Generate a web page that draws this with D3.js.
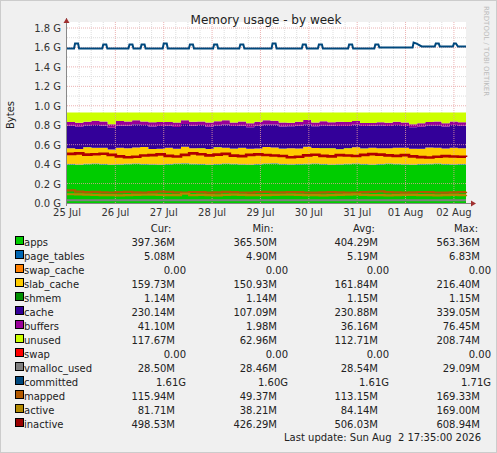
<!DOCTYPE html>
<html>
<head>
<meta charset="utf-8">
<script src="https://cdn.jsdelivr.net/npm/d3@7"></script>
<style>
  body { margin: 0; background: #fff; }
  text { font-family: "DejaVu Sans", sans-serif; white-space: pre; }
</style>
</head>
<body>
<div id="chart"></div>
<script>
// values in MB, one sample every ~4 hours from 25 Jul 00:00
const apps = [395,392,398,401,396,390,394,399,402,397,393,391,396,400,404,398,395,392,397,401,399,394,390,396,400,403,397,393,395,399,402,396,391,394,398,401,397,392,395,400,398,394,392,396,399,402,397,393,395,397];
const pageTables = [5.1,5.2,5.1,5.0,5.2,5.3,5.1,5.2,5.0,5.1,5.2,5.1,5.3,5.2,5.1,5.0,5.2,5.1,5.2,5.3,5.1,5.2,5.0,5.1,5.2,5.1,5.2,5.3,5.1,5.2,5.0,5.1,5.2,5.1,5.2,5.3,5.1,5.2,5.0,5.1,5.2,5.1,5.2,5.3,5.1,5.2,5.0,5.1,5.1,5.1];
const swapCache = [0,0,0,0,0,0,0,0,0,0,0,0,0,0,0,0,0,0,0,0,0,0,0,0,0,0,0,0,0,0,0,0,0,0,0,0,0,0,0,0,0,0,0,0,0,0,0,0,0,0];
const slabCache = [162,158,171,160,165,155,168,159,163,174,157,161,166,152,169,160,164,158,172,161,155,167,163,159,170,162,156,165,160,173,158,163,168,154,161,166,159,171,162,157,164,169,160,155,166,161,158,170,163,160];
const shmem = [1.1,1.1,1.1,1.1,1.1,1.1,1.1,1.1,1.1,1.1,1.1,1.1,1.1,1.1,1.1,1.1,1.1,1.1,1.1,1.1,1.1,1.1,1.1,1.1,1.1,1.1,1.1,1.1,1.1,1.1,1.1,1.1,1.1,1.1,1.1,1.1,1.1,1.1,1.1,1.1,1.1,1.1,1.1,1.1,1.1,1.1,1.1,1.1,1.1,1.1];
const cache = [232,228,225,236,230,222,229,234,238,226,231,235,227,224,233,230,236,229,225,240,232,227,221,234,230,237,228,226,233,231,224,235,229,238,227,232,230,225,236,228,233,222,220,226,229,231,227,233,230,229];
const buffers = [38,42,35,44,40,37,45,39,41,36,43,40,38,46,39,41,37,44,40,42,35,43,39,41,45,38,40,36,42,44,39,41,37,43,40,38,30,28,31,33,35,37,32,36,34,38,33,35,37,41];
const swap = [0,0,0,0,0,0,0,0,0,0,0,0,0,0,0,0,0,0,0,0,0,0,0,0,0,0,0,0,0,0,0,0,0,0,0,0,0,0,0,0,0,0,0,0,0,0,0,0,0,0];
const memTotal = 930; // unused = total - everything else
const vmalloc = [28.5,28.5,28.5,28.5,28.5,28.5,28.5,28.5,28.5,28.5,28.5,28.5,28.5,28.5,28.5,28.5,28.5,28.5,28.5,28.5,28.5,28.5,28.5,28.5,28.5,28.5,28.5,28.5,28.5,28.5,28.5,28.5,28.5,28.5,28.5,28.5,28.5,28.5,28.5,28.5,28.5,28.5,28.5,28.5,28.5,28.5,28.5,28.5,28.5,28.5];
const inactive = [505,510,498,502,507,495,480,470,475,488,492,500,485,478,495,510,502,490,498,505,487,482,495,500,493,488,484,470,475,490,497,485,480,492,488,484,495,503,498,490,485,492,480,472,468,475,482,478,476,474];
const mapped = [130,118,112,115,110,108,112,114,109,107,111,118,115,110,108,113,112,106,109,114,111,108,107,112,115,110,109,113,111,108,107,110,112,109,106,108,111,114,120,112,109,107,110,113,111,108,107,109,112,115];
const active = [90,88,86,84,82,80,78,81,83,85,87,84,82,80,95,82,84,81,79,83,86,84,82,80,81,83,85,87,84,82,80,79,81,83,86,88,84,82,80,78,81,83,84,82,80,79,81,83,82,84];
// committed: [hour, GB]
const committed = [[0,1.59],[3.5,1.59],[4,1.64],[5.5,1.64],[6,1.59],[17.5,1.59],[18,1.63],[19.5,1.63],[20,1.59],
  [30.5,1.59],[31,1.63],[32.5,1.63],[33,1.59],[36.5,1.59],[37,1.63],[38.5,1.63],[39,1.59],[47.5,1.59],[48,1.64],[49.5,1.64],[50,1.59],
  [60.5,1.59],[61,1.63],[62.5,1.63],[63,1.59],[72.5,1.59],[73,1.63],[74.5,1.63],[75,1.59],[85.5,1.59],[86,1.63],[87.5,1.63],[88,1.59],
  [101.5,1.59],[102,1.64],[103.5,1.64],[104,1.59],[116.5,1.59],[117,1.63],[118.5,1.63],[119,1.59],[124.5,1.59],[125,1.63],[126.5,1.63],[127,1.59],
  [139.5,1.59],[140,1.63],[141.5,1.63],[142,1.59],[152.5,1.59],[153,1.63],[154.5,1.63],[155,1.6],[171.5,1.6],[172,1.65],[173.5,1.64],[176,1.61],
  [182.5,1.61],[183,1.64],[184.5,1.64],[185,1.61],[191.5,1.61],[192,1.64],[193,1.64],[194,1.61],[198,1.61]];
const dayLabels = ['25 Jul','26 Jul','27 Jul','28 Jul','29 Jul','30 Jul','31 Jul','01 Aug','02 Aug'];
const yTicks = [0,0.2,0.4,0.6,0.8,1.0,1.2,1.4,1.6,1.8];

const legendRows = [
  ['apps','#00CC00','397.36M','365.50M','404.29M','563.36M'],
  ['page_tables','#0066B3','5.08M','4.90M','5.19M','6.83M'],
  ['swap_cache','#FF8000','0.00','0.00','0.00','0.00'],
  ['slab_cache','#FFCC00','159.73M','150.93M','161.84M','216.40M'],
  ['shmem','#008F00','1.14M','1.14M','1.15M','1.15M'],
  ['cache','#330099','230.14M','107.09M','230.88M','339.05M'],
  ['buffers','#990099','41.10M','1.98M','36.16M','76.45M'],
  ['unused','#CCFF00','117.67M','62.96M','112.71M','208.74M'],
  ['swap','#FF0000','0.00','0.00','0.00','0.00'],
  ['vmalloc_used','#808080','28.50M','28.46M','28.54M','29.09M'],
  ['committed','#00487D','1.61G','1.60G','1.61G','1.71G'],
  ['mapped','#B35A00','115.94M','49.37M','113.15M','169.33M'],
  ['active','#B38A00','81.71M','38.21M','84.14M','169.00M'],
  ['inactive','#990000','498.53M','426.29M','506.03M','608.94M']
];

const W = 497, H = 453;
const svg = d3.select('#chart').append('svg').attr('width', W).attr('height', H);
svg.append('rect').attr('x', 0.5).attr('y', 0.5).attr('width', W - 1).attr('height', H - 1)
   .attr('fill', '#F0F0F0').attr('stroke', '#ccc');

const x = d3.scaleLinear().domain([0, 198]).range([67, 466]);
const y = d3.scaleLinear().domain([0, 1.8]).range([203, 28]);
svg.append('rect').attr('x', 67).attr('y', 22).attr('width', 399).attr('height', 181).attr('fill', '#fff');

// grid
const g = svg.append('g');
d3.range(6, 198, 6).filter(h => h % 24 !== 0).forEach(h => {
  g.append('line').attr('x1', x(h)).attr('x2', x(h)).attr('y1', 22).attr('y2', 203)
   .attr('stroke', '#ddd').attr('stroke-dasharray', '1,1');
});
d3.range(0.1, 1.85, 0.2).forEach(v => {
  g.append('line').attr('x1', 67).attr('x2', 466).attr('y1', y(v)).attr('y2', y(v))
   .attr('stroke', '#ddd').attr('stroke-dasharray', '1,1');
});

// stacked areas
const n = apps.length;
const hours = d3.range(n).map(i => i * 198 / (n - 1));
const rows = hours.map((h, i) => {
  const used = apps[i] + pageTables[i] + swapCache[i] + slabCache[i] + shmem[i] + cache[i] + buffers[i];
  return {h, apps: apps[i], page_tables: pageTables[i], swap_cache: swapCache[i], slab_cache: slabCache[i],
          shmem: shmem[i], cache: cache[i], buffers: buffers[i], unused: memTotal - used, swap: swap[i]};
});
const keys = ['apps','page_tables','swap_cache','slab_cache','shmem','cache','buffers','unused','swap'];
const colors = Object.fromEntries(legendRows.map(r => [r[0], r[1]]));
const stack = d3.stack().keys(keys)(rows);
const area = d3.area().curve(d3.curveStepAfter)
  .x(d => x(d.data.h)).y0(d => y(d[0] / 1000)).y1(d => y(d[1] / 1000));
svg.selectAll('.layer').data(stack).enter().append('path')
   .attr('d', area).attr('fill', d => colors[d.key]);

// major grid on top
d3.range(24, 198, 24).forEach(h => {
  svg.append('line').attr('x1', x(h)).attr('x2', x(h)).attr('y1', 22).attr('y2', 203)
     .attr('stroke', '#e8a0a0').attr('stroke-dasharray', '1,1').attr('opacity', 0.8);
});
yTicks.slice(1).forEach(v => {
  svg.append('line').attr('x1', 67).attr('x2', 466).attr('y1', y(v)).attr('y2', y(v))
     .attr('stroke', '#e8a0a0').attr('stroke-dasharray', '1,1').attr('opacity', 0.8);
});

// lines
const line = d3.line().curve(d3.curveStepAfter).x((d, i) => x(hours[i])).y(d => y(d / 1000));
[[vmalloc,'vmalloc_used',2],[mapped,'mapped',2.2],[active,'active',2.2],[inactive,'inactive',2.6]].forEach(([arr, k, w]) => {
  svg.append('path').attr('d', line(arr)).attr('fill', 'none')
     .attr('stroke', k === 'inactive' ? '#B00000' : colors[k]).attr('stroke-width', w);
});
svg.append('path').attr('d', d3.line().x(d => x(d[0])).y(d => y(d[1]))(committed))
   .attr('fill', 'none').attr('stroke', colors.committed).attr('stroke-width', 2);

// axes
svg.append('line').attr('x1', 67).attr('x2', 471).attr('y1', 203.5).attr('y2', 203.5).attr('stroke', '#888');
svg.append('line').attr('x1', 66.5).attr('x2', 66.5).attr('y1', 18).attr('y2', 206).attr('stroke', '#888');
svg.append('path').attr('d', 'M471,200.5 L476,203.5 L471,206.5 Z').attr('fill', '#a03030');
svg.append('path').attr('d', 'M63.5,23 L66.5,18 L69.5,23 Z').attr('fill', '#a03030');

svg.selectAll('.ylab').data(yTicks).enter().append('text')
   .attr('x', 61).attr('y', d => y(d) + 4).attr('text-anchor', 'end')
   .attr('font-size', '10px').attr('fill', '#333').text(d => d.toFixed(1) + ' G');
svg.selectAll('.xlab').data(dayLabels).enter().append('text')
   .attr('x', (d, i) => x(i * 24)).attr('y', 216).attr('text-anchor', 'middle')
   .attr('font-size', '10px').attr('fill', '#333').text(d => d);

svg.append('text').attr('x', 266).attr('y', 24).attr('text-anchor', 'middle')
   .attr('font-size', '12px').attr('fill', '#222').text('Memory usage - by week');
svg.append('text').attr('transform', 'translate(14,115) rotate(-90)').attr('text-anchor', 'middle')
   .attr('font-size', '10px').attr('fill', '#222').text('Bytes');
svg.append('text').attr('transform', 'translate(484,6) rotate(90)')
   .attr('font-size', '7px').attr('fill', '#bbb').text('RRDTOOL / TOBI OETIKER');

// legend
const colX = [175, 277, 378, 480];
['Cur:','Min:','Avg:','Max:'].forEach((t, i) => {
  svg.append('text').attr('x', colX[i] - 14).attr('y', 232).attr('text-anchor', 'middle')
     .attr('font-size', '10px').attr('fill', '#222').text(t);
});
legendRows.forEach((r, i) => {
  const ry = 246 + i * 14;
  svg.append('rect').attr('x', 15.5).attr('y', ry - 9.5).attr('width', 8).attr('height', 8)
     .attr('fill', r[1]).attr('stroke', '#000');
  svg.append('text').attr('x', 24).attr('y', ry).attr('font-size', '10px').attr('fill', '#222').text(r[0]);
  r.slice(2).forEach((v, j) => {
    const pad = v.endsWith('M') ? 0 : 11;
    svg.append('text').attr('x', colX[j] + pad).attr('y', ry)
       .attr('text-anchor', 'end').attr('font-size', '10px').attr('fill', '#222').text(v);
  });
});
svg.append('text').attr('x', 481).attr('y', 441).attr('text-anchor', 'end')
   .attr('font-size', '10px').attr('fill', '#222').text('Last update: Sun Aug  2 17:35:00 2026');
</script>
</body>
</html>
